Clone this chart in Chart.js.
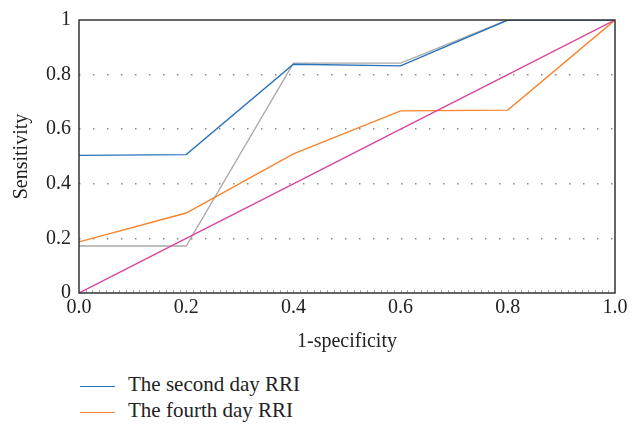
<!DOCTYPE html>
<html>
<head>
<meta charset="utf-8">
<script src="https://cdn.jsdelivr.net/npm/chart.js@4.4.0/dist/chart.umd.min.js"></script>
<style>
  html, body { margin: 0; padding: 0; background: #fff; }
  #wrap { position: relative; width: 643px; height: 360px; }
  .legend { font-family: "Liberation Serif", "DejaVu Serif", serif; font-size: 21px; color: #222; }
  .legend div { position: absolute; left: 80px; height: 22px; line-height: 22px; }
  .legend span.line { display: inline-block; width: 35px; height: 0; border-top: 1.5px solid; vertical-align: middle; margin-right: 13px; }
</style>
</head>
<body>
<div id="wrap"><canvas id="rocChart" width="643" height="360"></canvas></div>
<div class="legend" id="legend"></div>

<script>
// datos
const xValues = [0, 0.2, 0.4, 0.6, 0.8, 1.0];
const secondDay = [0.504, 0.507, 0.838, 0.832, 1.0, 1.0];
const fourthDay = [0.187, 0.293, 0.51, 0.667, 0.67, 1.0];
const grayLine = [0.172, 0.172, 0.842, 0.842, 1.0, 1.0];
const diagonal = [0, 0.2, 0.4, 0.6, 0.8, 1.0];
const xTickLabels = ['0.0', '0.2', '0.4', '0.6', '0.8', '1.0'];
const yTickLabels = ['0', '0.2', '0.4', '0.6', '0.8', '1'];
const legendLabels = ['The second day RRI', 'The fourth day RRI'];

const serif = '"Liberation Serif", "DejaVu Serif", serif';

function toPoints(ys) {
  return xValues.map((x, i) => ({ x: x, y: ys[i] }));
}

// marco del area y marcas menores en el eje x
const framePlugin = {
  id: 'frame',
  afterDatasetsDraw(chart) {
    const a = chart.chartArea;
    const ctx = chart.ctx;
    const xs = chart.scales.x;
    ctx.save();
    ctx.strokeStyle = '#aaa';
    ctx.lineWidth = 1;
    for (let i = 1; i < 80; i++) {
      const px = Math.round(xs.getPixelForValue(i / 80)) + 0.5;
      ctx.beginPath();
      ctx.moveTo(px, a.bottom);
      ctx.lineTo(px, a.bottom - 3);
      ctx.stroke();
    }
    ctx.strokeStyle = '#333';
    ctx.lineWidth = 1.5;
    ctx.strokeRect(a.left, a.top, a.right - a.left, a.bottom - a.top);
    ctx.restore();
  }
};

const ctx = document.getElementById('rocChart').getContext('2d');
window.rocChart = new Chart(ctx, {
  type: 'line',
  data: {
    datasets: [
      { label: 'diag', data: toPoints(diagonal), borderColor: '#d8469c' },
      { label: legendLabels[1], data: toPoints(fourthDay), borderColor: '#f7832c' },
      { label: legendLabels[0], data: toPoints(secondDay), borderColor: '#2a72ba' },
      { label: 'gray', data: toPoints(grayLine), borderColor: '#ababab' }
    ].map(d => Object.assign(d, { borderWidth: 1.4, pointRadius: 0, tension: 0, fill: false }))
  },
  options: {
    responsive: false,
    animation: false,
    layout: { padding: { left: 10, right: 28, top: 14, bottom: 0 } },
    plugins: { legend: { display: false }, tooltip: { enabled: false } },
    scales: {
      x: {
        type: 'linear', min: 0, max: 1,
        afterBuildTicks: s => { s.ticks = xValues.map(v => ({ value: v })); },
        afterFit: s => { s.height = 67; },
        grid: { display: false, drawTicks: false },
        border: { display: false },
        ticks: {
          padding: 3, color: '#222', font: { family: serif, size: 20 },
          maxRotation: 0,
          callback: (v, i) => xTickLabels[i]
        },
        title: { display: true, text: '1-specificity', color: '#222', font: { family: serif, size: 20 }, padding: { top: 4, bottom: 6 } }
      },
      y: {
        type: 'linear', min: 0, max: 1,
        afterBuildTicks: s => { s.ticks = diagonal.map(v => ({ value: v })); },
        afterFit: s => { s.width = 69; },
        grid: {
          drawTicks: false,
          color: c => (c.tick.value > 0 && c.tick.value < 1) ? '#8a8a8a' : 'rgba(0,0,0,0)',
          lineWidth: 1.5
        },
        border: { display: false, dash: [1.5, 12.5] },
        ticks: {
          padding: 8, color: '#222', font: { family: serif, size: 20 },
          callback: (v, i) => yTickLabels[i]
        },
        title: { display: true, text: 'Sensitivity', color: '#222', font: { family: serif, size: 20 }, padding: { top: 0, bottom: 0 } }
      }
    }
  },
  plugins: [framePlugin]
});

// leyenda abajo, una entrada por fila
const legendEl = document.getElementById('legend');
const legendColors = ['#2a72ba', '#f7832c'];
legendLabels.forEach((txt, i) => {
  const row = document.createElement('div');
  row.style.top = (373 + i * 26) + 'px';
  row.innerHTML = `<span class="line" style="border-color:${legendColors[i]}"></span>${txt}`;
  legendEl.appendChild(row);
});
</script>
</body>
</html>
